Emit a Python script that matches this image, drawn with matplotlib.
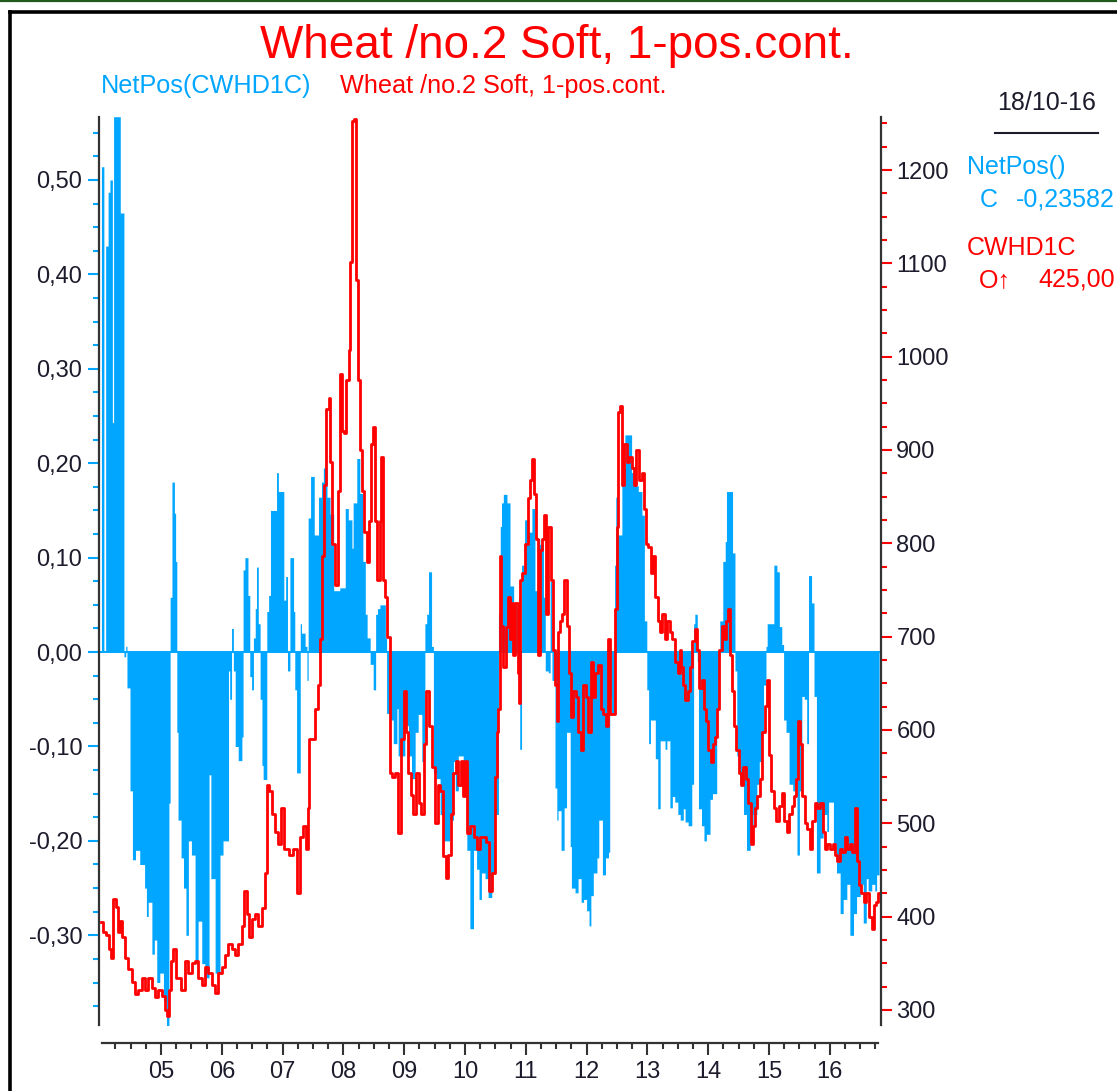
import numpy as np
import matplotlib
matplotlib.use("Agg")
import matplotlib.pyplot as plt
from matplotlib.lines import Line2D
from matplotlib.ticker import MultipleLocator, FixedLocator, FuncFormatter

plt.rcParams['font.family'] = ['Liberation Sans', 'DejaVu Sans']

# NetPos(CWHD1C) - step values, each starts at the given decimal year
blue_start = [2004.02, 2004.06, 2004.09, 2004.13, 2004.16, 2004.20, 2004.22, 2004.33, 2004.39, 2004.42,
              2004.44, 2004.49, 2004.53, 2004.58, 2004.65, 2004.73, 2004.76, 2004.79, 2004.85, 2004.89,
              2004.93, 2004.98, 2005.04, 2005.09, 2005.13, 2005.15, 2005.18, 2005.22, 2005.24, 2005.26,
              2005.28, 2005.33, 2005.37, 2005.41, 2005.45, 2005.50, 2005.56, 2005.61, 2005.67, 2005.72,
              2005.79, 2005.82, 2005.89, 2005.97, 2006.02, 2006.11, 2006.13, 2006.16, 2006.19, 2006.22,
              2006.27, 2006.33, 2006.35, 2006.38, 2006.43, 2006.46, 2006.49, 2006.52, 2006.55, 2006.57,
              2006.60, 2006.63, 2006.66, 2006.68, 2006.74, 2006.77, 2006.80, 2006.90, 2006.93, 2007.02,
              2007.05, 2007.08, 2007.12,
              2007.18, 2007.20, 2007.23, 2007.29, 2007.31, 2007.37, 2007.40, 2007.42, 2007.46, 2007.52,
              2007.59, 2007.64, 2007.67, 2007.73, 2007.78, 2007.84, 2007.94, 2008.03, 2008.08, 2008.14,
              2008.16, 2008.22, 2008.27, 2008.32, 2008.36, 2008.39, 2008.44, 2008.49, 2008.53, 2008.56,
              2008.60, 2008.69, 2008.71, 2008.77, 2008.82, 2008.88, 2008.90, 2009.01, 2009.07, 2009.12,
              2009.18, 2009.23, 2009.29, 2009.34, 2009.37, 2009.40, 2009.45, 2009.48, 2009.53, 2009.59,
              2009.64, 2009.75, 2009.81, 2009.84, 2009.89, 2009.97, 2010.03, 2010.08, 2010.14, 2010.19,
              2010.23, 2010.27,
              2010.33, 2010.38, 2010.44, 2010.49, 2010.55, 2010.58, 2010.60, 2010.63, 2010.69, 2010.74,
              2010.80, 2010.85, 2010.88, 2010.90, 2010.93, 2010.98, 2011.04, 2011.10, 2011.15, 2011.20,
              2011.23, 2011.29, 2011.32, 2011.37, 2011.40, 2011.43, 2011.48, 2011.51, 2011.53, 2011.58,
              2011.63, 2011.67, 2011.73, 2011.75, 2011.81, 2011.86, 2011.91, 2011.95, 2012.00, 2012.04,
              2012.07, 2012.11, 2012.17, 2012.20, 2012.26, 2012.31, 2012.36, 2012.38, 2012.41, 2012.46,
              2012.48, 2012.52, 2012.58, 2012.63, 2012.74, 2012.80, 2012.85, 2012.91, 2012.95, 2012.99,
              2013.02, 2013.05, 2013.13, 2013.17, 2013.21, 2013.29, 2013.32, 2013.37, 2013.41, 2013.45,
              2013.50,
              2013.54, 2013.59, 2013.62, 2013.67, 2013.73, 2013.76, 2013.78, 2013.82, 2013.84, 2013.89,
              2013.93, 2013.97, 2014.03, 2014.07, 2014.14, 2014.19, 2014.24, 2014.28, 2014.30, 2014.40,
              2014.44, 2014.47, 2014.52, 2014.58, 2014.63, 2014.69, 2014.74, 2014.80, 2014.84, 2014.88,
              2014.91, 2014.95, 2014.97, 2015.08, 2015.13, 2015.17, 2015.21, 2015.24, 2015.28, 2015.33,
              2015.39, 2015.43, 2015.46, 2015.50, 2015.54, 2015.58, 2015.62, 2015.65, 2015.70, 2015.74,
              2015.78, 2015.84, 2015.89, 2015.95, 2015.98, 2016.06, 2016.11, 2016.17, 2016.22, 2016.28,
              2016.33, 2016.39, 2016.44, 2016.50, 2016.55, 2016.60, 2016.63, 2016.69, 2016.74, 2016.77]
blue_val = [0.514, 0.0, 0.43, 0.487, 0.50, 0.243, 0.567, 0.465, -0.005, 0.006,
            -0.038, -0.147, -0.22, -0.21, -0.225, -0.25, -0.28, -0.265, -0.32, -0.305,
            -0.35, -0.34, -0.37, -0.40, -0.16, 0.058, 0.18, 0.147, 0.096, -0.085,
            -0.178, -0.218, -0.25, -0.30, -0.20, -0.215, -0.33, -0.285, -0.33, -0.345,
            -0.13, -0.24, -0.34, -0.215, -0.20, -0.02, -0.05, 0.025, -0.02, -0.10,
            -0.115, -0.09, 0.087, 0.10, 0.06, -0.026, -0.04, 0.015, 0.046, 0.09,
            0.03, -0.05, -0.12, -0.135, 0.043, 0.06, 0.15, 0.19, 0.17, 0.055,
            0.08, -0.02, 0.10,
            0.043, -0.04, -0.128, 0.03, 0.02, 0.006, -0.03, 0.142, 0.186, 0.124,
            0.164, 0.18, 0.195, 0.164, 0.146, 0.065, 0.068, 0.152, 0.14, 0.11,
            0.158, 0.205, 0.168, 0.096, 0.04, 0.015, -0.013, -0.04, 0.04, 0.046,
            0.05, 0.015, -0.065, -0.072, -0.097, -0.06, -0.11, -0.078, -0.11, -0.134,
            -0.085, -0.066, -0.116, 0.03, 0.04, 0.085, 0.006, -0.128, -0.134, -0.172,
            -0.20, -0.178, -0.116, -0.147, -0.11, -0.152, -0.21, -0.293, -0.21, -0.23,
            -0.262, -0.234,
            -0.24, -0.26, -0.235, -0.172, 0.04, 0.133, 0.158, 0.167, 0.158, 0.07,
            0.05, 0.046, 0.058, -0.103, 0.092, 0.14, 0.127, 0.152, 0.065, 0.12,
            0.114, 0.058, -0.02, -0.022, 0.075, -0.03, -0.144, -0.178, -0.168, -0.21,
            -0.165, -0.085, -0.206, -0.25, -0.255, -0.24, -0.265, -0.262, -0.274, -0.29,
            -0.258, -0.234, -0.218, -0.178, -0.236, -0.218, -0.212, -0.047, -0.066, 0.092,
            0.164, 0.124, 0.195, 0.23, 0.19, 0.176, 0.17, 0.145, 0.033, -0.04,
            -0.097, -0.072, -0.113, -0.166, -0.094, -0.103, -0.094, -0.165, -0.153, -0.159,
            -0.172,
            -0.178, -0.166, -0.18, -0.184, -0.14, 0.03, 0.04, -0.01, -0.166, -0.184,
            -0.2, -0.193, -0.156, -0.15, -0.06, 0.033, 0.096, 0.117, 0.17, 0.105,
            -0.02, -0.11, -0.14, -0.172, -0.21, -0.19, -0.172, -0.14, -0.116, -0.085,
            -0.035, 0.006, 0.03, 0.092, 0.085, 0.027, 0.008, -0.072, -0.085, -0.14,
            -0.147, -0.134, -0.215, -0.147, -0.047, -0.05, -0.097, 0.081, 0.052, -0.047,
            -0.234, -0.197, -0.172, -0.19, -0.159, -0.203, -0.234, -0.277, -0.262, -0.246,
            -0.3, -0.277, -0.259, -0.246, -0.287, -0.24, -0.253, -0.246, -0.253, -0.236]
blue_end = 2016.81

# Wheat /no.2 Soft, 1-pos.cont. (CWHD1C)
red_year = [2004.02, 2004.07, 2004.12, 2004.17, 2004.20, 2004.23, 2004.28, 2004.31, 2004.34, 2004.39,
            2004.43, 2004.49, 2004.54, 2004.60, 2004.65, 2004.71, 2004.76, 2004.82, 2004.87, 2004.93,
            2004.98, 2005.04, 2005.09, 2005.12, 2005.14, 2005.18, 2005.22, 2005.26, 2005.31, 2005.36,
            2005.42, 2005.48, 2005.53, 2005.59, 2005.64, 2005.70, 2005.75, 2005.81, 2005.86, 2005.92,
            2005.97, 2006.02, 2006.08, 2006.13, 2006.19, 2006.24, 2006.30, 2006.35, 2006.39, 2006.43,
            2006.47, 2006.52, 2006.57, 2006.63, 2006.68, 2006.73, 2006.76, 2006.80, 2006.85, 2006.90,
            2006.96, 2007.00, 2007.03, 2007.07,
            2007.15, 2007.20, 2007.26, 2007.31, 2007.37, 2007.41, 2007.42, 2007.46, 2007.51, 2007.56,
            2007.60, 2007.64, 2007.67, 2007.70, 2007.74, 2007.77, 2007.80, 2007.84, 2007.89, 2007.93,
            2007.96, 2007.98, 2008.03, 2008.07, 2008.10, 2008.13, 2008.16, 2008.19, 2008.21, 2008.22,
            2008.25, 2008.28, 2008.32, 2008.36, 2008.40, 2008.44, 2008.47, 2008.50, 2008.54, 2008.58,
            2008.61, 2008.64, 2008.67, 2008.70, 2008.74, 2008.78, 2008.82, 2008.88, 2008.93, 2008.97,
            2009.01, 2009.05, 2009.09, 2009.13, 2009.17, 2009.21, 2009.26, 2009.30, 2009.34, 2009.39,
            2009.43, 2009.48, 2009.53, 2009.57, 2009.62, 2009.66, 2009.70, 2009.74, 2009.79, 2009.83,
            2009.87, 2009.91, 2009.95, 2009.98, 2010.01, 2010.06, 2010.11, 2010.17, 2010.22, 2010.27,
            2010.33,
            2010.36, 2010.42, 2010.47, 2010.52, 2010.53, 2010.55, 2010.59, 2010.61, 2010.65, 2010.69,
            2010.72, 2010.75, 2010.78, 2010.81, 2010.85, 2010.88, 2010.89, 2010.92, 2010.97, 2011.01,
            2011.05, 2011.08, 2011.11, 2011.15, 2011.18, 2011.21, 2011.25, 2011.29, 2011.32, 2011.35,
            2011.39, 2011.43, 2011.46, 2011.49, 2011.52, 2011.55, 2011.58, 2011.62, 2011.65, 2011.69,
            2011.73, 2011.76, 2011.80, 2011.84, 2011.89, 2011.92, 2011.96, 2012.01, 2012.05, 2012.08,
            2012.12, 2012.17, 2012.21, 2012.25, 2012.30, 2012.34, 2012.37, 2012.40, 2012.45, 2012.48,
            2012.51, 2012.53, 2012.56, 2012.60, 2012.64, 2012.68, 2012.72, 2012.76, 2012.80, 2012.84,
            2012.88, 2012.93, 2012.97, 2013.00, 2013.03, 2013.08, 2013.11, 2013.15, 2013.19, 2013.22,
            2013.27, 2013.31, 2013.35, 2013.39, 2013.43, 2013.48, 2013.51, 2013.55,
            2013.56, 2013.60, 2013.64, 2013.68, 2013.72, 2013.76, 2013.80, 2013.84, 2013.87, 2013.91,
            2013.95, 2013.98, 2014.02, 2014.06, 2014.09, 2014.13, 2014.17, 2014.20, 2014.24, 2014.28,
            2014.31, 2014.34, 2014.38, 2014.41, 2014.45, 2014.48, 2014.52, 2014.56, 2014.59, 2014.64,
            2014.68, 2014.72, 2014.75, 2014.79, 2014.83, 2014.87, 2014.91, 2014.95, 2014.99, 2015.02,
            2015.06, 2015.10, 2015.14, 2015.19, 2015.23, 2015.27, 2015.31, 2015.35, 2015.39, 2015.43,
            2015.47, 2015.49, 2015.53, 2015.57, 2015.61, 2015.65, 2015.70, 2015.73, 2015.77, 2015.82,
            2015.86, 2015.90, 2015.94, 2015.98, 2016.03, 2016.06, 2016.10, 2016.15, 2016.18, 2016.23,
            2016.27, 2016.31, 2016.35, 2016.39, 2016.43, 2016.46, 2016.50, 2016.54, 2016.58, 2016.62,
            2016.67, 2016.71, 2016.74, 2016.78, 2016.81]
red_price = [394, 384, 380, 365, 356, 419, 410, 384, 395, 378,
             356, 344, 330, 317, 321, 334, 321, 334, 324, 314,
             321, 315, 300, 294, 321, 353, 365, 334, 334, 321,
             353, 340, 350, 353, 334, 327, 346, 340, 327, 318,
             340, 346, 359, 371, 365, 359, 371, 390, 428, 403,
             378, 397, 403, 390, 409, 447, 541, 535, 510, 491,
             478, 516, 472, 472,
             466, 472, 425, 485, 497, 472, 516, 590, 590, 623,
             648, 698, 786, 862, 944, 956, 887, 799, 755, 856,
             981, 920, 918, 975, 1007, 1101, 1252, 1255, 1170, 1082,
             975, 900, 856, 812, 780, 824, 906, 925, 824, 761,
             824, 893, 761, 742, 700, 554, 550, 554, 490, 590,
             642, 598, 554, 530, 510, 554, 522, 510, 585, 642,
             604, 560, 500, 541, 535, 465, 441, 466, 510, 554,
             567, 541, 567, 529, 567, 490, 497, 485, 472, 485,
             485,
             480, 428, 447, 550, 598, 623, 786, 711, 667, 710,
             742, 698, 736, 680, 736, 661, 629, 761, 768, 799,
             849, 868, 890, 853, 805, 680, 793, 805, 830, 724,
             818, 761, 686, 648, 610, 705, 717, 724, 761, 711,
             661, 614, 642, 635, 598, 579, 648, 635, 598, 673,
             635, 661, 670, 623, 617, 604, 698, 617, 617, 730,
             818, 941, 947, 862, 906, 887, 893, 881, 862, 900,
             868, 875, 837, 799, 796, 768, 786, 742, 717, 705,
             724, 698, 717, 705, 698, 673, 661, 686,
             667, 648, 632, 642, 667, 695, 708, 686, 645, 654,
             623, 610, 579, 566, 585, 592, 623, 686, 711, 698,
             717, 730, 680, 642, 604, 579, 554, 541, 560, 548,
             522, 478, 497, 516, 529, 548, 598, 626, 654, 573,
             535, 516, 503, 519, 532, 503, 491, 510, 519, 529,
             548, 610, 585, 529, 500, 494, 472, 503, 522, 516,
             522, 491, 472, 478, 472, 478, 466, 460, 472, 469,
             485, 472, 478, 469, 516, 460, 434, 425, 416, 425,
             400, 387, 412, 416, 425]

year_ticks = list(range(2005, 2017))
year_labels = ['05', '06', '07', '08', '09', '10', '11', '12', '13', '14', '15', '16']

title = 'Wheat /no.2 Soft, 1-pos.cont.'
last_date = '18/10-16'
last_netpos = '-0,23582'
last_price = '425,00'

BLUE = '#00A6FF'
RED = '#FF0000'
SPINE = '#333333'
LABEL = '#1c1c2c'

W, H = 1117, 1091
fig = plt.figure(figsize=(W / 100, H / 100), dpi=100)
fig.patch.set_facecolor('white')

ax = fig.add_axes([99 / W, 66 / H, 782 / W, 908 / H])
ax.set_xlim(2003.98, 2016.842)
ax.set_ylim(-0.395, 0.5667)

# net position as a stepped area from zero (no seams between steps)
edges = blue_start + [blue_end]
ax.fill_between(edges, blue_val + [blue_val[-1]], 0, step='post', color=BLUE, linewidth=0)
ax.plot([blue_start[0], blue_end], [0, 0], color=BLUE, lw=1.4)

ax2 = ax.twinx()
ax2.set_ylim(283.9, 1256.8)
ax2.plot(red_year, red_price, color=RED, lw=2.0, drawstyle='steps-mid')

# spines
for a in (ax, ax2):
    a.spines['top'].set_visible(False)
    for s in a.spines.values():
        s.set_color(SPINE)
        s.set_linewidth(1.6)
ax.spines['right'].set_visible(False)
ax2.spines['left'].set_visible(False)
ax2.spines['bottom'].set_visible(False)
ax.spines['bottom'].set_position(('outward', 13))
ax.spines['bottom'].set_bounds(2004.03, 2016.79)

# left axis
ax.yaxis.set_major_locator(MultipleLocator(0.1))
ax.yaxis.set_minor_locator(MultipleLocator(0.025))
ax.yaxis.set_major_formatter(FuncFormatter(lambda v, p: f'{v:.2f}'.replace('.', ',').replace('-0,00', '0,00')))
ax.tick_params(axis='y', which='major', length=8, width=1.5, color=BLUE, labelsize=17,
               labelcolor=LABEL, pad=4)
ax.tick_params(axis='y', which='minor', length=4.3, width=1.5, color=BLUE)

# right axis
ax2.yaxis.set_major_locator(MultipleLocator(100))
ax2.yaxis.set_minor_locator(MultipleLocator(25))
ax2.tick_params(axis='y', which='major', length=8, width=1.5, color=RED, labelsize=17,
                labelcolor=LABEL, pad=3)
ax2.tick_params(axis='y', which='minor', length=4.3, width=1.5, color=RED)

# x axis
ax.xaxis.set_major_locator(FixedLocator(year_ticks))
ax.set_xticklabels(year_labels)
quarters = [y + q for y in range(2004, 2017) for q in (0.25, 0.5, 0.75)]
ax.xaxis.set_minor_locator(FixedLocator(quarters))
ax.tick_params(axis='x', which='major', length=8.6, width=1.5, color=SPINE, labelsize=17,
               labelcolor=LABEL, pad=4)
ax.tick_params(axis='x', which='minor', length=4.3, width=1.5, color=SPINE)

# titles
fig.text(557 / W, 1 - 58 / H, title, color=RED, fontsize=33, ha='center', va='baseline')
fig.text(101 / W, 1 - 93 / H, 'NetPos(CWHD1C)', color=BLUE, fontsize=18.2, va='baseline')
fig.text(340 / W, 1 - 93 / H, title, color=RED, fontsize=18.2, va='baseline')

# last values panel
fig.text(997 / W, 1 - 110 / H, last_date, color=LABEL, fontsize=18, va='baseline')
fig.add_artist(Line2D([995 / W, 1098 / W], [1 - 133 / H, 1 - 133 / H], color=LABEL, lw=1.5))
fig.text(967 / W, 1 - 174 / H, 'NetPos()', color=BLUE, fontsize=18, va='baseline')
fig.text(980 / W, 1 - 207 / H, 'C', color=BLUE, fontsize=18, va='baseline')
fig.text(1016 / W, 1 - 207 / H, last_netpos, color=BLUE, fontsize=18, va='baseline')
fig.text(967 / W, 1 - 255 / H, 'CWHD1C', color=RED, fontsize=18, va='baseline')
fig.text(979 / W, 1 - 287 / H, 'O\u2191', color=RED, fontsize=18, va='baseline')
fig.text(1038 / W, 1 - 287 / H, last_price, color=RED, fontsize=18, va='baseline')

# window frame
fig.add_artist(Line2D([0, 1], [1 - 1 / H, 1 - 1 / H], color='#1f5a1f', lw=1.6))
fig.add_artist(Line2D([10 / W, 1], [1 - 12 / H, 1 - 12 / H], color='black', lw=2.6))
fig.add_artist(Line2D([10 / W, 10 / W], [0, 1 - 12 / H], color='black', lw=2.6))

fig.savefig('out.png', dpi=100)
